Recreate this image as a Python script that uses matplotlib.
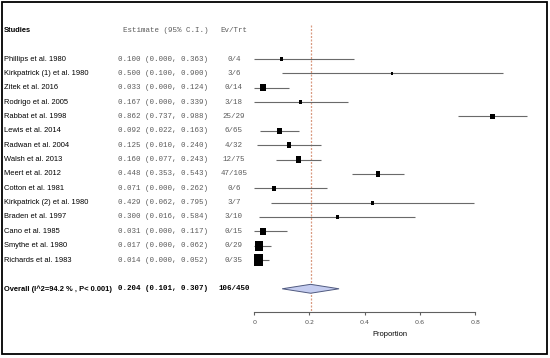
import matplotlib
matplotlib.use("Agg")
import matplotlib.pyplot as plt
from matplotlib.patches import Polygon, Rectangle

studies = ["Phillips et al. 1980", "Kirkpatrick (1) et al. 1980", "Zitek et al. 2016",
           "Rodrigo et al. 2005", "Rabbat et al. 1998", "Lewis et al. 2014",
           "Radwan et al. 2004", "Walsh et al. 2013", "Meert et al. 2012",
           "Cotton et al. 1981", "Kirkpatrick (2) et al. 1980", "Braden et al. 1997",
           "Cano et al. 1985", "Smythe et al. 1980", "Richards et al. 1983"]
est = [0.100, 0.500, 0.033, 0.167, 0.862, 0.092, 0.125, 0.160, 0.448,
       0.071, 0.429, 0.300, 0.031, 0.017, 0.014]
lo = [0.000, 0.100, 0.000, 0.000, 0.737, 0.022, 0.010, 0.077, 0.353,
      0.000, 0.062, 0.016, 0.000, 0.000, 0.000]
hi = [0.363, 0.900, 0.124, 0.339, 0.988, 0.163, 0.240, 0.243, 0.543,
      0.262, 0.795, 0.584, 0.117, 0.062, 0.052]
events = [0, 3, 0, 3, 25, 6, 4, 12, 47, 0, 3, 3, 0, 0, 0]
totals = [4, 6, 14, 18, 29, 65, 32, 75, 105, 6, 7, 10, 15, 29, 35]
# relative weights (%)
weights = [4.2, 2.8, 8.3, 5.1, 6.5, 6.9, 6.0, 6.9, 6.5, 6.0, 4.2, 4.2, 7.9, 11.5, 12.9]

overall_label = "Overall (I^2=94.2 % , P< 0.001)"
overall = (0.204, 0.101, 0.307)
overall_ev = "106/450"
xticks = [0, 0.2, 0.4, 0.6, 0.8]

name_font = ["Liberation Sans", "DejaVu Sans"]
mono_font = ["Liberation Mono", "DejaVu Sans Mono"]
fs_name = 5.45
fs_mono = 5.4
gray_txt = "#5a5a5a"

fig = plt.figure(figsize=(5.5, 3.58), dpi=100)
ax = fig.add_axes([0, 0, 1, 1])
ax.patch.set_alpha(0)
ax.set_xlim(-0.9214, 1.0714)
ax.set_ylim(20.82, -4.109)

n = len(studies)
rows = list(range(n))
y_over = n + 1
y_head = -2
y_axis = 17.6

x_name = -0.907
x_est = -0.167
x_ev = -0.074

ax.text(x_name, y_head, "Studies", family=name_font, weight="bold", fontsize=fs_name, va="center")
ax.text(x_est, y_head, "Estimate (95% C.I.)", family=mono_font, fontsize=fs_mono, color=gray_txt, ha="right", va="center")
ax.text(x_ev, y_head, "Ev/Trt", family=mono_font, fontsize=fs_mono, color=gray_txt, ha="center", va="center")

for i in rows:
    ax.text(x_name, i, studies[i], family=name_font, fontsize=fs_name, va="center")
    ax.text(x_est, i, "%.3f (%.3f, %.3f)" % (est[i], lo[i], hi[i]), family=mono_font,
            fontsize=fs_mono, color=gray_txt, ha="right", va="center")
    ax.text(x_ev, i, "%d/%d" % (events[i], totals[i]), family=mono_font,
            fontsize=fs_mono, color=gray_txt, ha="center", va="center")

ax.text(x_name, y_over, overall_label, family=name_font, weight="bold", fontsize=fs_name, va="center")
ax.text(x_est, y_over, "%.3f (%.3f, %.3f)" % overall, family=mono_font, weight="bold",
        fontsize=fs_mono, ha="right", va="center")
ax.text(x_ev, y_over, overall_ev, family=mono_font, weight="bold", fontsize=fs_mono, ha="center", va="center")

# confidence intervals and boxes
ax.hlines(rows, lo, hi, color="#6a6a6a", lw=0.8, zorder=2)
box = [(-0.4, -0.5), (0.4, -0.5), (0.4, 0.5), (-0.4, 0.5)]
sizes = [(w * 0.72 * 1.25 * 0.72) ** 2 for w in weights]
ax.scatter(est, rows, s=sizes, marker=box, color="black", zorder=3, linewidths=0)

# summary line and diamond
ax.vlines(overall[0], -2.37, y_axis, color="#d99a80", lw=0.9, linestyles=(0, (1.6, 1.2)), zorder=1)
h = 0.31
ax.add_patch(Polygon([(overall[1], y_over), (overall[0], y_over - h),
                      (overall[2], y_over), (overall[0], y_over + h)],
                     closed=True, facecolor="#c5cdf0", edgecolor="#505a80", lw=0.7, zorder=3))

# x axis
for s in ["left", "right", "top"]:
    ax.spines[s].set_visible(False)
ax.spines["bottom"].set_position(("data", y_axis))
ax.spines["bottom"].set_bounds(0, 0.8)
ax.spines["bottom"].set_color("#606060")
ax.spines["bottom"].set_linewidth(0.8)
ax.set_yticks([])
ax.set_xticks(xticks)
ax.set_xticklabels(["0", "0.2", "0.4", "0.6", "0.8"])
ax.tick_params(axis="x", direction="out", length=2.2, width=0.8, color="#606060",
               labelsize=4.6, labelcolor="#555555", pad=4)
ax.text(0.49, 19.2, "Proportion", family=name_font, fontsize=5.4, ha="center", va="center")

fig.patches.append(Rectangle((0.0036, 0.0112), 0.9909, 0.9832, transform=fig.transFigure,
                             fill=False, edgecolor="black", lw=1.3))

fig.savefig("out.png", dpi=100)
